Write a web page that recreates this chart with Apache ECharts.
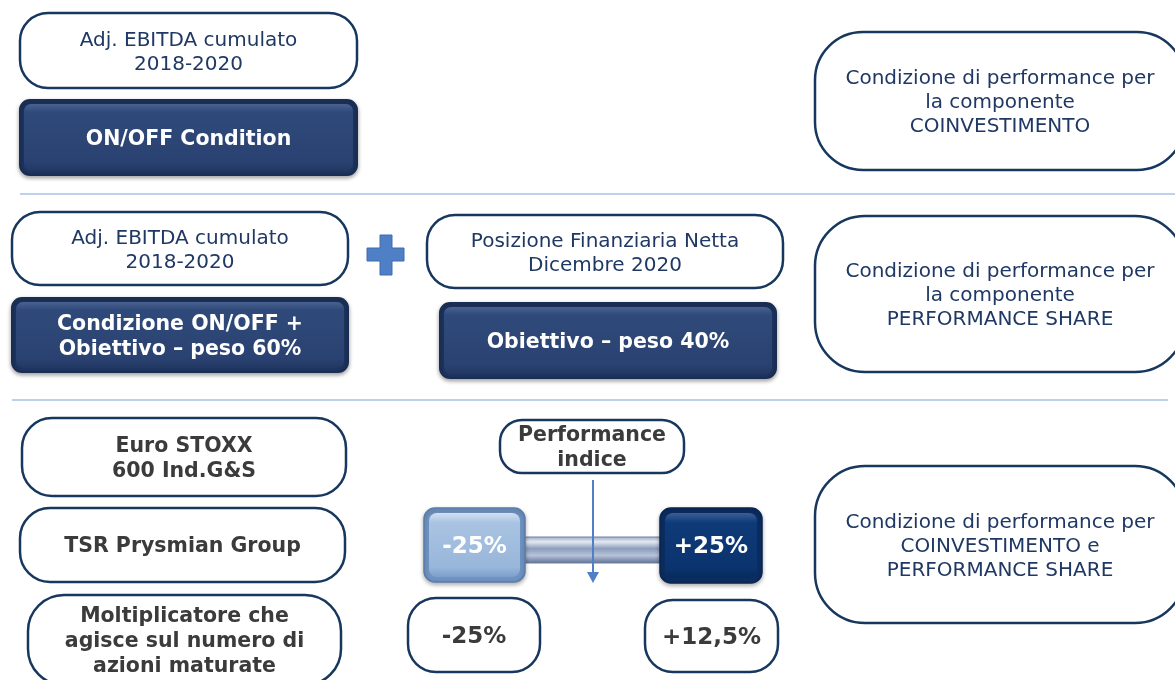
<!DOCTYPE html>
<html>
<head>
<meta charset="utf-8">
<style>
  html, body { margin: 0; padding: 0; background: #fff; }
  #chart { width: 1175px; height: 680px; }
</style>
<script src="https://cdn.jsdelivr.net/npm/echarts@6/dist/echarts.min.js"></script>
</head>
<body>
<div id="chart"></div>
<script>
// texts of the diagram, section by section
const section1Labels = ['Adj. EBITDA cumulato\n2018-2020', 'ON/OFF Condition'];
const section2Labels = ['Adj. EBITDA cumulato\n2018-2020', 'Posizione Finanziaria Netta\nDicembre 2020',
                        'Condizione ON/OFF +\nObiettivo – peso 60%', 'Obiettivo – peso 40%'];
const section3Labels = ['Euro STOXX\n600 Ind.G&S', 'TSR Prysmian Group', 'Moltiplicatore che\nagisce sul numero di\nazioni maturate'];
const rangeLabels = ['-25%', '+25%'];
const multiplierLabels = ['-25%', '+12,5%'];
const indexLabel = 'Performance\nindice';
const resultLabels = [
  'Condizione di performance per\nla componente\nCOINVESTIMENTO',
  'Condizione di performance per\nla componente\nPERFORMANCE SHARE',
  'Condizione di performance per\nCOINVESTIMENTO e\nPERFORMANCE SHARE'
];

const NAVY = '#17375e';
const TEXT_BLUE = '#1f3864';
const TEXT_GRAY = '#3b3b3b';
const FONT = '"DejaVu Sans", Verdana, sans-serif';

function label(x, y, w, h, text, color, size, weight, lh) {
  return {
    type: 'text',
    x: x + w / 2, y: y + h / 2 + 2,
    style: {
      text: text, fill: color, font: weight + ' ' + size + 'px ' + FONT,
      align: 'center', verticalAlign: 'middle', lineHeight: lh
    }
  };
}

function whiteBox(x, y, w, h, r, text, color, weight, size) {
  const s = size || (weight === 'bold' ? 20.5 : 20);
  return {
    type: 'group',
    children: [
      { type: 'rect', shape: { x: x, y: y, width: w, height: h, r: r },
        style: { fill: '#fff', stroke: NAVY, lineWidth: 2.5 } },
      label(x, y, w, h, text, color, s, weight, weight === 'bold' ? 25 : 24)
    ]
  };
}

function darkBox(x, y, w, h, text) {
  return {
    type: 'group',
    children: [
      { type: 'rect', shape: { x: x, y: y, width: w, height: h, r: 10 },
        style: { fill: '#1e3560', stroke: '#1a2d52', lineWidth: 2,
                 shadowBlur: 4, shadowColor: 'rgba(0,0,0,0.35)', shadowOffsetY: 2 } },
      { type: 'rect', shape: { x: x + 4, y: y + 4, width: w - 8, height: h - 8, r: 7 },
        style: { fill: new echarts.graphic.LinearGradient(0, 0, 0, 1, [
          { offset: 0, color: '#4a6290' }, { offset: 0.12, color: '#2f4a7a' },
          { offset: 0.85, color: '#2a4272' }, { offset: 1, color: '#223863' }]) } },
      label(x, y, w, h, text, '#fff', 20.5, 'bold', 25)
    ]
  };
}

function rangeBox(x, y, w, h, text, light) {
  const outer = light ? '#6f93c2' : '#0b2d61';
  const stops = light
    ? [{ offset: 0, color: '#d2e0f0' }, { offset: 0.15, color: '#a9c4e2' }, { offset: 0.85, color: '#98b6da' }, { offset: 1, color: '#7d9fcb' }]
    : [{ offset: 0, color: '#3b5f96' }, { offset: 0.15, color: '#0e3a78' }, { offset: 0.85, color: '#0b346e' }, { offset: 1, color: '#082a5a' }];
  return {
    type: 'group',
    children: [
      { type: 'rect', shape: { x: x, y: y, width: w, height: h, r: 11 },
        style: { fill: outer, stroke: light ? '#5a7cab' : '#0a2650', lineWidth: 1.5,
                 shadowBlur: 4, shadowColor: 'rgba(0,0,0,0.3)', shadowOffsetY: 2 } },
      { type: 'rect', shape: { x: x + 5, y: y + 5, width: w - 10, height: h - 10, r: 8 },
        style: { fill: new echarts.graphic.LinearGradient(0, 0, 0, 1, stops) } },
      label(x, y, w, h, text, '#fff', 23, 'bold', 25)
    ]
  };
}

const chart = echarts.init(document.getElementById('chart'));

const elements = [
  // separators
  { type: 'line', shape: { x1: 20, y1: 194, x2: 1175, y2: 194 }, style: { stroke: '#a9c1e6', lineWidth: 1.5 } },
  { type: 'line', shape: { x1: 12, y1: 400, x2: 1168, y2: 400 }, style: { stroke: '#a9c1e6', lineWidth: 1.5 } },

  // section 1
  whiteBox(20, 13, 337, 75, 28, section1Labels[0], TEXT_BLUE, 'normal'),
  darkBox(20, 100, 337, 75, section1Labels[1]),
  whiteBox(815, 32, 370, 138, 48, resultLabels[0], TEXT_BLUE, 'normal'),

  // section 2
  whiteBox(12, 212, 336, 73, 28, section2Labels[0], TEXT_BLUE, 'normal'),
  whiteBox(427, 215, 356, 73, 28, section2Labels[1], TEXT_BLUE, 'normal'),
  darkBox(12, 298, 336, 74, section2Labels[2]),
  darkBox(440, 303, 336, 75, section2Labels[3]),
  { type: 'polygon',
    shape: { points: [[380, 235], [392, 235], [392, 248], [404, 248], [404, 261], [392, 261],
                      [392, 275], [380, 275], [380, 261], [367, 261], [367, 248], [380, 248]] },
    style: { fill: '#4f7fc4', stroke: '#3e6db0', lineWidth: 1 } },
  whiteBox(815, 216, 370, 156, 50, resultLabels[1], TEXT_BLUE, 'normal'),

  // section 3
  whiteBox(22, 418, 324, 78, 30, section3Labels[0], TEXT_GRAY, 'bold'),
  whiteBox(20, 508, 325, 74, 30, section3Labels[1], TEXT_GRAY, 'bold'),
  whiteBox(28, 595, 313, 90, 36, section3Labels[2], TEXT_GRAY, 'bold'),

  // connecting bar
  { type: 'rect', shape: { x: 522, y: 537, width: 142, height: 26 },
    style: { fill: new echarts.graphic.LinearGradient(0, 0, 0, 1, [
      { offset: 0, color: '#9aa9c4' }, { offset: 0.2, color: '#e4e9f2' }, { offset: 0.45, color: '#8c9dbb' },
      { offset: 0.7, color: '#b7c3d8' }, { offset: 1, color: '#5c6f94' }]), stroke: '#6f80a3', lineWidth: 1 } },
  rangeBox(424, 508, 101, 74, rangeLabels[0], true),
  rangeBox(660, 508, 102, 75, rangeLabels[1], false),

  whiteBox(500, 420, 184, 53, 22, indexLabel, TEXT_GRAY, 'bold'),
  // arrow
  { type: 'line', shape: { x1: 593, y1: 480, x2: 593, y2: 572 }, style: { stroke: '#4f7fc4', lineWidth: 2 } },
  { type: 'polygon', shape: { points: [[587, 572], [599, 572], [593, 583]] }, style: { fill: '#4f7fc4' } },

  whiteBox(408, 598, 132, 74, 28, multiplierLabels[0], TEXT_GRAY, 'bold', 23),
  whiteBox(645, 600, 133, 72, 28, multiplierLabels[1], TEXT_GRAY, 'bold', 23),
  whiteBox(815, 466, 370, 157, 50, resultLabels[2], TEXT_BLUE, 'normal')
];

chart.setOption({
  animation: false,
  graphic: { elements: elements }
});
</script>
</body>
</html>
